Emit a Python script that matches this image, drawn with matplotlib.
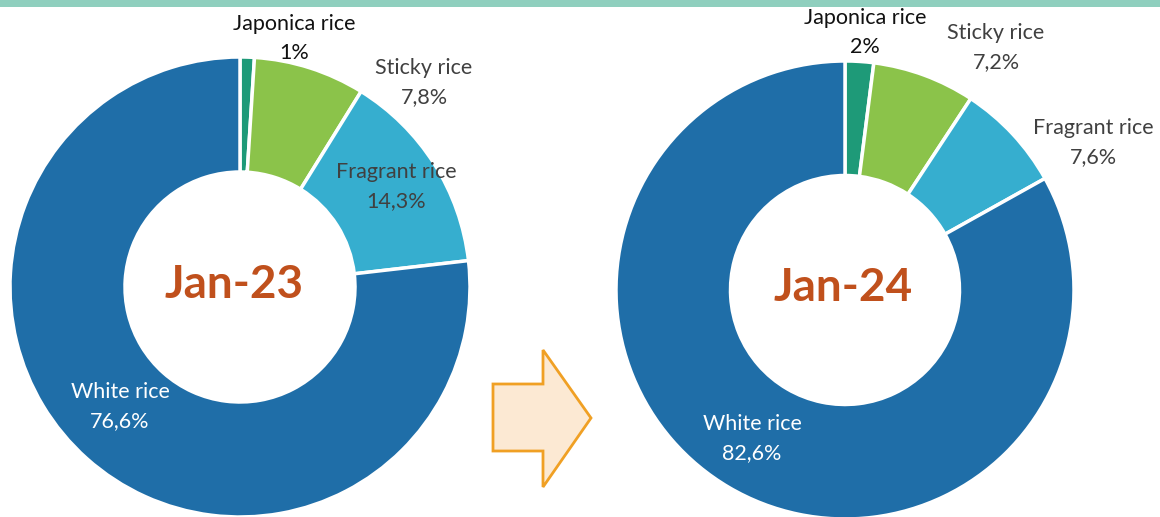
import matplotlib
matplotlib.use("Agg")
import matplotlib.pyplot as plt
from matplotlib.patches import Polygon, Rectangle

categories = ["Japonica rice", "Sticky rice", "Fragrant rice", "White rice"]
values_2023 = [1.0, 7.8, 14.3, 76.6]
values_2024 = [2.0, 7.2, 7.6, 82.6]
value_labels_2023 = ["1%", "7,8%", "14,3%", "76,6%"]
value_labels_2024 = ["2%", "7,2%", "7,6%", "82,6%"]
period_labels = ["Jan-23", "Jan-24"]

colors = ["#1E9A78", "#8BC34A", "#36AECF", "#1F6EA8"]
label_colors = ["#111111", "#404040", "#404040", "#FFFFFF"]

W, H = 1160, 517
fig = plt.figure(figsize=(W / 100, H / 100), dpi=100)
fig.patch.set_facecolor("white")

FONT = "Lato"

def px_axes(x0, y0_top, w, h):
    # position given in top-origin pixel coords
    return fig.add_axes([x0 / W, 1 - (y0_top + h) / H, w / W, h / H])

# top band
fig.add_artist(Rectangle((0, 1 - 7 / H), 1, 7 / H, transform=fig.transFigure,
                         facecolor="#8FCFBE", edgecolor="none"))

pies = [
    dict(vals=values_2023, labs=value_labels_2023, box=(10, 57, 460, 460),
         period=period_labels[0], center=(234, 285),
         lpos=[(294, 24), (424, 68), (396, 172), (120, 392)]),
    dict(vals=values_2024, labs=value_labels_2024, box=(616, 61, 458, 458),
         period=period_labels[1], center=(843, 288),
         lpos=[(865, 18), (996, 33), (1093, 128), (752, 424)]),
]

for p in pies:
    ax = px_axes(*p["box"])
    ax.pie(p["vals"], colors=colors, startangle=90, counterclock=False,
           radius=1.0, wedgeprops=dict(width=0.5, edgecolor="white", linewidth=2.5))
    ax.set_xlim(-1, 1)
    ax.set_ylim(-1, 1)
    ax.set_aspect("equal")
    ax.axis("off")
    cx, cy = p["center"]
    fig.text(cx / W, 1 - cy / H, p["period"], ha="center", va="center",
             fontsize=33, fontweight="bold", color="#C0501C", family=FONT)
    for cat, lab, (lx, ly), col in zip(categories, p["labs"], p["lpos"], label_colors):
        fig.text(lx / W, 1 - ly / H, cat, ha="center", va="center",
                 fontsize=15.5, color=col, family=FONT)
        fig.text(lx / W, 1 - (ly + 29) / H, lab, ha="center", va="center",
                 fontsize=15.5, color=col, family=FONT)

# arrow
arrow_px = [(493, 384), (543, 384), (543, 350), (591, 418), (543, 487),
            (543, 451), (493, 451)]
arrow = Polygon([(x / W, 1 - y / H) for x, y in arrow_px], closed=True,
                transform=fig.transFigure, facecolor="#FCE9D3",
                edgecolor="#F0A024", linewidth=2)
fig.add_artist(arrow)

fig.savefig("out.png", dpi=100)
